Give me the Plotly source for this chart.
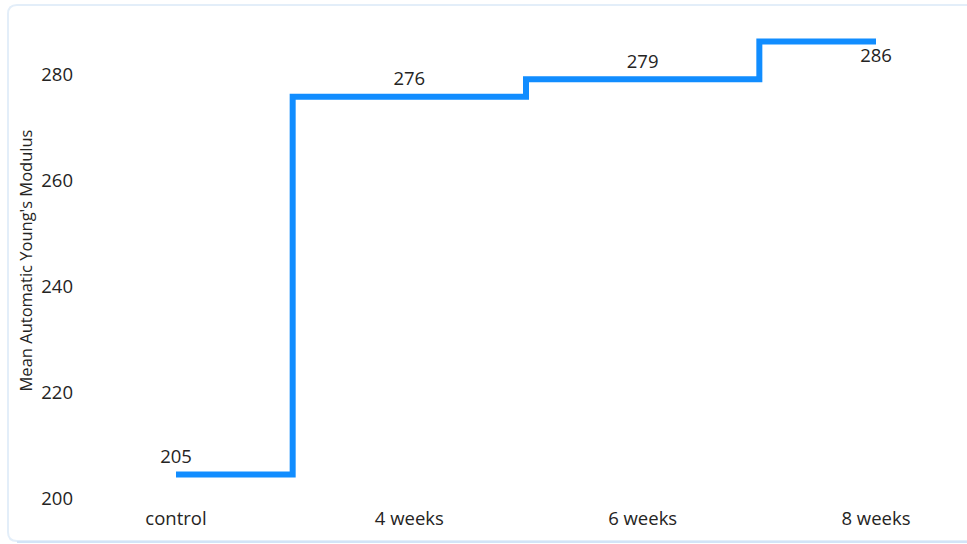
import plotly.graph_objects as go

categories = ["control", "4 weeks", "6 weeks", "8 weeks"]
values = [204.6, 275.9, 279.2, 286.3]
label_positions = ["top center", "top center", "top center", "bottom center"]
y_ticks = [200, 220, 240, 260, 280]

W, H = 967, 544
L, R, T, B = 80, 17, 22, 45
pw, ph = W - L - R, H - T - B

fig = go.Figure()
fig.add_trace(go.Scatter(
    x=categories, y=values,
    mode="lines+markers+text",
    line=dict(color="#118DFF", width=6, shape="hvh"),
    marker=dict(size=9, opacity=0, color="#118DFF"),
    text=[f"{v:.0f}" for v in values],
    textposition=label_positions,
    textfont=dict(family="Open Sans", size=18.5, color="#252423"),
    hoverinfo="skip",
    cliponaxis=False,
))

# rounded card border (paper coords)
x0, x1 = (8 - L) / pw, (975 - L) / pw
y0, y1 = (H - B - 541) / ph, (H - B - 5) / ph
rx, ry = 9 / pw, 9 / ph
path = (f"M {x0+rx},{y0} L {x1-rx},{y0} Q {x1},{y0} {x1},{y0+ry} "
        f"L {x1},{y1-ry} Q {x1},{y1} {x1-rx},{y1} L {x0+rx},{y1} "
        f"Q {x0},{y1} {x0},{y1-ry} L {x0},{y0+ry} Q {x0},{y0} {x0+rx},{y0} Z")
fig.add_shape(type="path", xref="paper", yref="paper", path=path,
              line=dict(color="#E3EEF9", width=2), layer="below")
fig.add_shape(type="line", xref="paper", yref="paper",
              x0=x0 + rx, x1=x1, y0=y0 - 1 / ph, y1=y0 - 1 / ph,
              line=dict(color="#D2E4F7", width=2), layer="below")

fig.update_layout(
    width=W, height=H,
    margin=dict(l=L, r=R, t=T, b=B),
    paper_bgcolor="white", plot_bgcolor="white",
    showlegend=False,
    font=dict(family="Open Sans", color="#252423"),
    xaxis=dict(
        type="category",
        range=[-(176 - L) / 233.33, 3 + (W - R - 876) / 233.33],
        showgrid=False, zeroline=False, showline=False,
        tickfont=dict(size=18.5, color="#252423"),
        ticks="", ticklabelstandoff=6,
    ),
    yaxis=dict(
        range=[200, 200 + ph / 5.3],
        tickvals=y_ticks,
        showgrid=False, zeroline=False, showline=False,
        tickfont=dict(size=18.5, color="#252423"),
        ticks="", ticklabelstandoff=6,
        title=dict(text="Mean Automatic Young's Modulus",
                   font=dict(size=16.5, color="#252423"), standoff=4),
    ),
)

fig.write_html("out.html",
               config={"displayModeBar": False},
               post_script="document.body.style.margin='0';document.body.style.padding='0';")
